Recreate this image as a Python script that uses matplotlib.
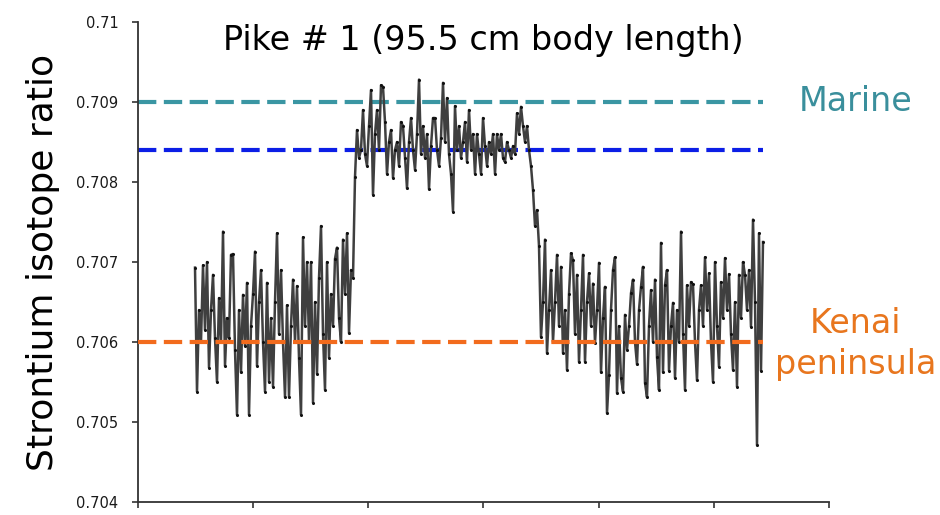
import numpy as np
import matplotlib
matplotlib.use("Agg")
import matplotlib.pyplot as plt

plt.rcParams['font.family'] = ['DejaVu Sans']

x_start, x_end = 0.495, 5.427

freshwater_early = [
    0.70693, 0.70538, 0.70640, 0.70600, 0.70696, 0.70615, 0.70700, 0.70568, 0.70640, 0.70684,
    0.70605, 0.70550, 0.70655, 0.70600, 0.70738, 0.70570, 0.70630, 0.70605, 0.70709, 0.70710,
    0.70590, 0.70509, 0.70640, 0.70562, 0.70659, 0.70595, 0.70674, 0.70509, 0.70620, 0.70660,
    0.70713, 0.70570, 0.70650, 0.70690, 0.70600, 0.70538, 0.70674, 0.70550, 0.70630, 0.70544,
    0.70650, 0.70736, 0.70610, 0.70690, 0.70600, 0.70531, 0.70646, 0.70531, 0.70620, 0.70678,
    0.70600, 0.70670, 0.70580, 0.70509, 0.70731, 0.70620, 0.70700, 0.70600, 0.70700, 0.70524,
    0.70650, 0.70560, 0.70680, 0.70745, 0.70610, 0.70540, 0.70700, 0.70580, 0.70660, 0.70620,
    0.70704, 0.70718, 0.70630, 0.70600, 0.70728, 0.70660, 0.70736, 0.70611, 0.70690, 0.70680,
]
marine_phase = [
    0.70806, 0.70865, 0.70830, 0.70840, 0.70890, 0.70835, 0.70820, 0.70870, 0.70915, 0.70784,
    0.70860, 0.70890, 0.70840, 0.70921, 0.70919, 0.70875, 0.70810, 0.70850, 0.70865, 0.70805,
    0.70840, 0.70850, 0.70820, 0.70875, 0.70870, 0.70830, 0.70792, 0.70850, 0.70880, 0.70840,
    0.70815, 0.70860, 0.70928, 0.70835, 0.70870, 0.70830, 0.70860, 0.70791, 0.70845, 0.70880,
    0.70880, 0.70840, 0.70820, 0.70855, 0.70924, 0.70850, 0.70905, 0.70835, 0.70810, 0.70763,
    0.70895, 0.70840, 0.70870, 0.70830, 0.70850, 0.70875, 0.70825, 0.70890, 0.70840, 0.70860,
    0.70810, 0.70860, 0.70835, 0.70810, 0.70880, 0.70845, 0.70820, 0.70850, 0.70835, 0.70860,
    0.70810, 0.70860, 0.70840, 0.70860, 0.70830, 0.70825, 0.70850, 0.70840, 0.70830, 0.70845,
    0.70835, 0.70886, 0.70860, 0.70894, 0.70870, 0.70850, 0.70870, 0.70840, 0.70820,
]
freshwater_late = [
    0.70790, 0.70745, 0.70765, 0.70720, 0.70606, 0.70650, 0.70728, 0.70586, 0.70640, 0.70690,
    0.70600, 0.70650, 0.70709, 0.70620, 0.70694, 0.70586, 0.70640, 0.70565, 0.70660, 0.70711,
    0.70702, 0.70610, 0.70684, 0.70575, 0.70640, 0.70709, 0.70575, 0.70650, 0.70686, 0.70620,
    0.70673, 0.70599, 0.70640, 0.70699, 0.70562, 0.70630, 0.70669, 0.70511, 0.70559, 0.70640,
    0.70690, 0.70706, 0.70536, 0.70620, 0.70555, 0.70538, 0.70634, 0.70590, 0.70620, 0.70661,
    0.70678, 0.70600, 0.70572, 0.70640, 0.70669, 0.70694, 0.70549, 0.70531, 0.70620, 0.70665,
    0.70600, 0.70678, 0.70581, 0.70540, 0.70724, 0.70562, 0.70671, 0.70690, 0.70564, 0.70620,
    0.70649, 0.70555, 0.70640, 0.70600, 0.70738, 0.70610, 0.70540, 0.70671, 0.70620, 0.70675,
    0.70672, 0.70600, 0.70552, 0.70640, 0.70671, 0.70620, 0.70706, 0.70640, 0.70686, 0.70600,
    0.70550, 0.70700, 0.70620, 0.70569, 0.70675, 0.70630, 0.70705, 0.70640, 0.70685, 0.70610,
    0.70565, 0.70650, 0.70544, 0.70684, 0.70630, 0.70700, 0.70684, 0.70640, 0.70690, 0.70619,
    0.70753, 0.70650, 0.70471, 0.70736, 0.70564, 0.70725,
]

# reference levels
marine_level = 0.7090
marine_fish_level = 0.7084
kenai_level = 0.7060

yticks = [0.704, 0.705, 0.706, 0.707, 0.708, 0.709, 0.710]
ytick_labels = ['0.704', '0.705', '0.706', '0.707', '0.708', '0.709', '0.71']

sr = np.array(freshwater_early + marine_phase + freshwater_late)
dist = np.linspace(x_start, x_end, len(sr))

fig = plt.figure(figsize=(9.4, 5.15), dpi=100)
ax = fig.add_axes([0.1468, 0.0252, 0.7351, 0.9321])

ax.plot(dist, sr, color='#3f3f3f', lw=1.8, marker='.', ms=2.4, mec='#111111', mfc='#111111', zorder=3)

ax.plot([0, x_end], [marine_level, marine_level], color='#3a96a3', lw=3, dashes=(4.4, 1.8), zorder=2)
ax.plot([0, x_end], [marine_fish_level, marine_fish_level], color='#0c1ee6', lw=3, dashes=(4.4, 1.8), zorder=2)
ax.plot([0, x_end], [kenai_level, kenai_level], color='#f26b1d', lw=3, dashes=(4.4, 1.8), zorder=4)

ax.set_xlim(0, 6)
ax.set_ylim(0.704, 0.710)
ax.set_xticks(range(7))
ax.set_xticklabels([])
ax.set_yticks(yticks)
ax.set_yticklabels(ytick_labels)

for s in ['top', 'right']:
    ax.spines[s].set_visible(False)
for s in ['left', 'bottom']:
    ax.spines[s].set_color('#333333')
    ax.spines[s].set_linewidth(1.3)
ax.tick_params(axis='both', direction='out', length=4, width=1.2, color='#333333')
ax.tick_params(axis='y', labelsize=10.5, labelcolor='#1a1a1a', pad=10)

ax.set_ylabel('Strontium isotope ratio', fontsize=26, labelpad=12)
ax.text(0.5, 0.962, 'Pike # 1 (95.5 cm body length)', transform=ax.transAxes,
        ha='center', va='center', fontsize=24)

ax.text(6.23, marine_level, 'Marine', color='#3a8f9c', fontsize=24,
        ha='center', va='center', clip_on=False)
ax.text(6.23, kenai_level - 0.00002, 'Kenai\npeninsula', color='#e8761e', fontsize=24,
        ha='center', va='center', linespacing=1.3, clip_on=False)

fig.savefig('out.png', dpi=100)
